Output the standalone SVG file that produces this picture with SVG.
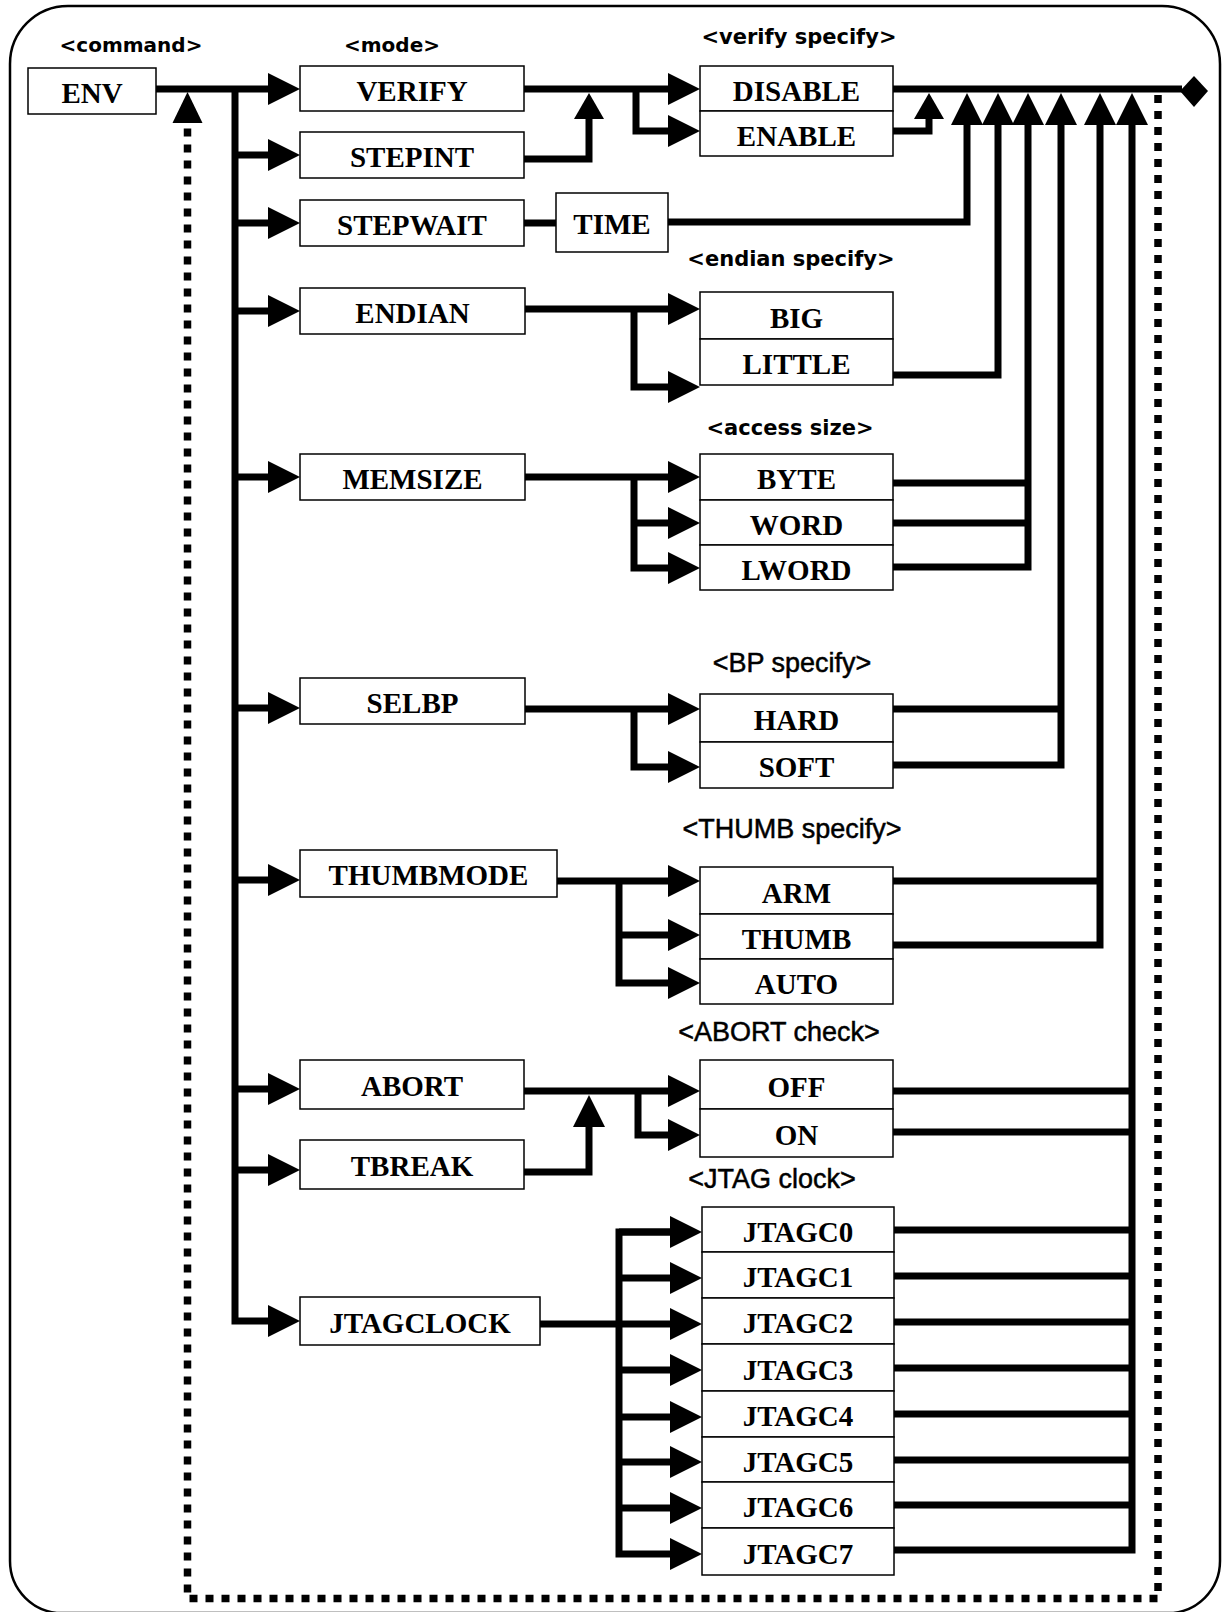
<svg xmlns="http://www.w3.org/2000/svg" width="1222" height="1612" viewBox="0 0 1222 1612">
<style>
.box{fill:#fff;stroke:#000;stroke-width:1.5}
.lbl{font-family:"Liberation Serif","Times New Roman",serif;font-weight:bold;font-size:29px;text-anchor:middle;fill:#000}
.h1{font-family:"DejaVu Sans",sans-serif;font-weight:bold;font-size:20px;text-anchor:middle;fill:#000}
.h1b{font-size:21px}
.h2{font-family:"Liberation Sans",Arial,sans-serif;font-size:27px;text-anchor:middle;fill:#000;stroke:#000;stroke-width:0.5}
.ln{fill:none;stroke:#000;stroke-width:7;stroke-linejoin:miter}
.ar{marker-end:url(#arr)}
.as{marker-end:url(#arrS)}
.dot{fill:none;stroke:#000;stroke-width:7.5;stroke-dasharray:8 8}
</style>
<defs>
<marker id="arr" markerUnits="userSpaceOnUse" viewBox="0 0 32 32" markerWidth="32" markerHeight="32" refX="0" refY="16" orient="auto" overflow="visible"><path d="M0,0 L32,16 L0,32 z" fill="#000"/></marker>
<marker id="arrS" markerUnits="userSpaceOnUse" viewBox="0 0 26 30" markerWidth="26" markerHeight="30" refX="0" refY="15" orient="auto" overflow="visible"><path d="M0,0 L26,15 L0,30 z" fill="#000"/></marker>
<marker id="arrD" markerUnits="userSpaceOnUse" viewBox="0 0 31 30" markerWidth="31" markerHeight="30" refX="0" refY="15" orient="auto" overflow="visible"><path d="M0,0 L31,15 L0,30 z" fill="#000"/></marker>
</defs>
<rect x="0" y="0" width="1222" height="1612" fill="#fff"/>
<path id="frame" d="M10,64 A58,58 0 0 1 68,6 H1162 A58,58 0 0 1 1220,64 V1561 A52,52 0 0 1 1168,1613 H62 A52,52 0 0 1 10,1561 Z" fill="none" stroke="#000" stroke-width="2.5"/>

<g id="headers">
<text class="h1" x="131" y="52">&lt;command&gt;</text>
<text class="h1" x="392" y="52">&lt;mode&gt;</text>
<text class="h1 h1b" x="799" y="44">&lt;verify specify&gt;</text>
<text class="h1 h1b" x="791" y="266">&lt;endian specify&gt;</text>
<text class="h1 h1b" x="790" y="435">&lt;access size&gt;</text>
<text class="h2" x="792" y="672">&lt;BP specify&gt;</text>
<text class="h2" x="792" y="838">&lt;THUMB specify&gt;</text>
<text class="h2" x="779" y="1041">&lt;ABORT check&gt;</text>
<text class="h2" x="772" y="1188">&lt;JTAG clock&gt;</text>
</g>

<g id="connectors">
<path class="ln ar" d="M156,89 H268"/>
<path class="ln ar" d="M235,89 V1321 H268"/>
<path class="ln ar" d="M235,155 H268"/>
<path class="ln ar" d="M235,223 H268"/>
<path class="ln ar" d="M235,311 H268"/>
<path class="ln ar" d="M235,477 H268"/>
<path class="ln ar" d="M235,708 H268"/>
<path class="ln ar" d="M235,880 H268"/>
<path class="ln ar" d="M235,1089 H268"/>
<path class="ln ar" d="M235,1170 H268"/>

<path class="ln ar" d="M524,89 H668"/>
<path class="ln ar" d="M636,89 V131 H668"/>
<path class="ln as" d="M524,159 H589 V119"/>
<path class="ln" d="M524,223 H556"/>
<path class="ln ar" d="M668,222 H967 V125"/>
<path class="ln as" d="M893,131 H929 V119"/>
<path class="ln" d="M893,89 H1182"/>

<path class="ln ar" d="M525,309 H668"/>
<path class="ln ar" d="M634,309 V387 H668"/>
<path class="ln ar" d="M893,375 H998 V125"/>

<path class="ln ar" d="M525,477 H668"/>
<path class="ln ar" d="M634,477 V568 H668"/>
<path class="ln ar" d="M634,523 H668"/>
<path class="ln" d="M893,483 H1028"/>
<path class="ln" d="M893,523 H1028"/>
<path class="ln ar" d="M893,567 H1028 V125"/>

<path class="ln ar" d="M525,709 H668"/>
<path class="ln ar" d="M634,709 V767 H668"/>
<path class="ln" d="M893,709 H1061"/>
<path class="ln ar" d="M893,765 H1061 V125"/>

<path class="ln ar" d="M557,881 H668"/>
<path class="ln ar" d="M619,881 V983 H668"/>
<path class="ln ar" d="M619,935 H668"/>
<path class="ln" d="M893,881 H1100"/>
<path class="ln ar" d="M893,945 H1100 V125"/>

<path class="ln ar" d="M524,1091 H668"/>
<path class="ln ar" d="M638,1091 V1135 H668"/>
<path class="ln ar" d="M524,1172 H589 V1127"/>
<path class="ln" d="M893,1091 H1132"/>
<path class="ln" d="M893,1132 H1132"/>

<path class="ln ar" d="M540,1324 H670"/>
<path class="ln ar" d="M670,1232 H619 V1554 H670"/>
<path class="ln ar" d="M619,1278 H670"/>
<path class="ln ar" d="M619,1370 H670"/>
<path class="ln ar" d="M619,1417 H670"/>
<path class="ln ar" d="M619,1462 H670"/>
<path class="ln ar" d="M619,1508 H670"/>
<path class="ln ar" d="M619,1232 H670"/>
<path class="ln" d="M894,1230 H1132"/>
<path class="ln" d="M894,1276 H1132"/>
<path class="ln" d="M894,1322 H1132"/>
<path class="ln" d="M894,1368 H1132"/>
<path class="ln" d="M894,1414 H1132"/>
<path class="ln" d="M894,1460 H1132"/>
<path class="ln" d="M894,1505 H1132"/>
<path class="ln ar" d="M894,1550 H1132 V125"/>

<path class="dot" d="M1158,95 V1598.5 H187.5 V123" style="marker-end:url(#arrD)"/>
<polygon points="1180,91 1194,76 1208,91 1194,107" fill="#000"/>
</g>

<g id="n-ENV"><rect class="box" x="28" y="68" width="128" height="46"/><text class="lbl" x="92" y="103">ENV</text></g>
<g id="n-VERIFY"><rect class="box" x="300" y="66" width="224" height="45"/><text class="lbl" x="412" y="101">VERIFY</text></g>
<g id="n-STEPINT"><rect class="box" x="300" y="132" width="224" height="46"/><text class="lbl" x="412" y="167">STEPINT</text></g>
<g id="n-STEPWAIT"><rect class="box" x="300" y="200" width="224" height="46"/><text class="lbl" x="412" y="235">STEPWAIT</text></g>
<g id="n-TIME"><rect class="box" x="556" y="193" width="112" height="59"/><text class="lbl" x="612" y="234">TIME</text></g>
<g id="n-ENDIAN"><rect class="box" x="300" y="288" width="225" height="46"/><text class="lbl" x="412.5" y="323">ENDIAN</text></g>
<g id="n-MEMSIZE"><rect class="box" x="300" y="454" width="225" height="46"/><text class="lbl" x="412.5" y="489">MEMSIZE</text></g>
<g id="n-SELBP"><rect class="box" x="300" y="678" width="225" height="46"/><text class="lbl" x="412.5" y="713">SELBP</text></g>
<g id="n-THUMBMODE"><rect class="box" x="300" y="850" width="257" height="47"/><text class="lbl" x="428.5" y="885">THUMBMODE</text></g>
<g id="n-ABORT"><rect class="box" x="300" y="1060" width="224" height="49"/><text class="lbl" x="412" y="1096">ABORT</text></g>
<g id="n-TBREAK"><rect class="box" x="300" y="1140" width="224" height="49"/><text class="lbl" x="412" y="1176">TBREAK</text></g>
<g id="n-JTAGCLOCK"><rect class="box" x="300" y="1297" width="240" height="48"/><text class="lbl" x="420" y="1333">JTAGCLOCK</text></g>

<g id="n-DISABLE"><rect class="box" x="700" y="66" width="193" height="45"/><text class="lbl" x="796.5" y="101">DISABLE</text></g>
<g id="n-ENABLE"><rect class="box" x="700" y="111" width="193" height="45"/><text class="lbl" x="796.5" y="146">ENABLE</text></g>
<g id="n-BIG"><rect class="box" x="700" y="292" width="193" height="47"/><text class="lbl" x="796.5" y="328">BIG</text></g>
<g id="n-LITTLE"><rect class="box" x="700" y="339" width="193" height="46"/><text class="lbl" x="796.5" y="374">LITTLE</text></g>
<g id="n-BYTE"><rect class="box" x="700" y="454" width="193" height="46"/><text class="lbl" x="796.5" y="489">BYTE</text></g>
<g id="n-WORD"><rect class="box" x="700" y="500" width="193" height="45"/><text class="lbl" x="796.5" y="535">WORD</text></g>
<g id="n-LWORD"><rect class="box" x="700" y="545" width="193" height="45"/><text class="lbl" x="796.5" y="580">LWORD</text></g>
<g id="n-HARD"><rect class="box" x="700" y="694" width="193" height="48"/><text class="lbl" x="796.5" y="730">HARD</text></g>
<g id="n-SOFT"><rect class="box" x="700" y="742" width="193" height="46"/><text class="lbl" x="796.5" y="777">SOFT</text></g>
<g id="n-ARM"><rect class="box" x="700" y="867" width="193" height="47"/><text class="lbl" x="796.5" y="903">ARM</text></g>
<g id="n-THUMB"><rect class="box" x="700" y="914" width="193" height="45"/><text class="lbl" x="796.5" y="949">THUMB</text></g>
<g id="n-AUTO"><rect class="box" x="700" y="959" width="193" height="45"/><text class="lbl" x="796.5" y="994">AUTO</text></g>
<g id="n-OFF"><rect class="box" x="700" y="1060" width="193" height="49"/><text class="lbl" x="796.5" y="1097">OFF</text></g>
<g id="n-ON"><rect class="box" x="700" y="1109" width="193" height="48"/><text class="lbl" x="796.5" y="1145">ON</text></g>
<g id="n-JTAGC0"><rect class="box" x="702" y="1207" width="192" height="45"/><text class="lbl" x="798" y="1242">JTAGC0</text></g>
<g id="n-JTAGC1"><rect class="box" x="702" y="1252" width="192" height="46"/><text class="lbl" x="798" y="1287">JTAGC1</text></g>
<g id="n-JTAGC2"><rect class="box" x="702" y="1298" width="192" height="46"/><text class="lbl" x="798" y="1333">JTAGC2</text></g>
<g id="n-JTAGC3"><rect class="box" x="702" y="1344" width="192" height="47"/><text class="lbl" x="798" y="1380">JTAGC3</text></g>
<g id="n-JTAGC4"><rect class="box" x="702" y="1391" width="192" height="46"/><text class="lbl" x="798" y="1426">JTAGC4</text></g>
<g id="n-JTAGC5"><rect class="box" x="702" y="1437" width="192" height="45"/><text class="lbl" x="798" y="1472">JTAGC5</text></g>
<g id="n-JTAGC6"><rect class="box" x="702" y="1482" width="192" height="46"/><text class="lbl" x="798" y="1517">JTAGC6</text></g>
<g id="n-JTAGC7"><rect class="box" x="702" y="1528" width="192" height="47"/><text class="lbl" x="798" y="1564">JTAGC7</text></g>
</svg>
